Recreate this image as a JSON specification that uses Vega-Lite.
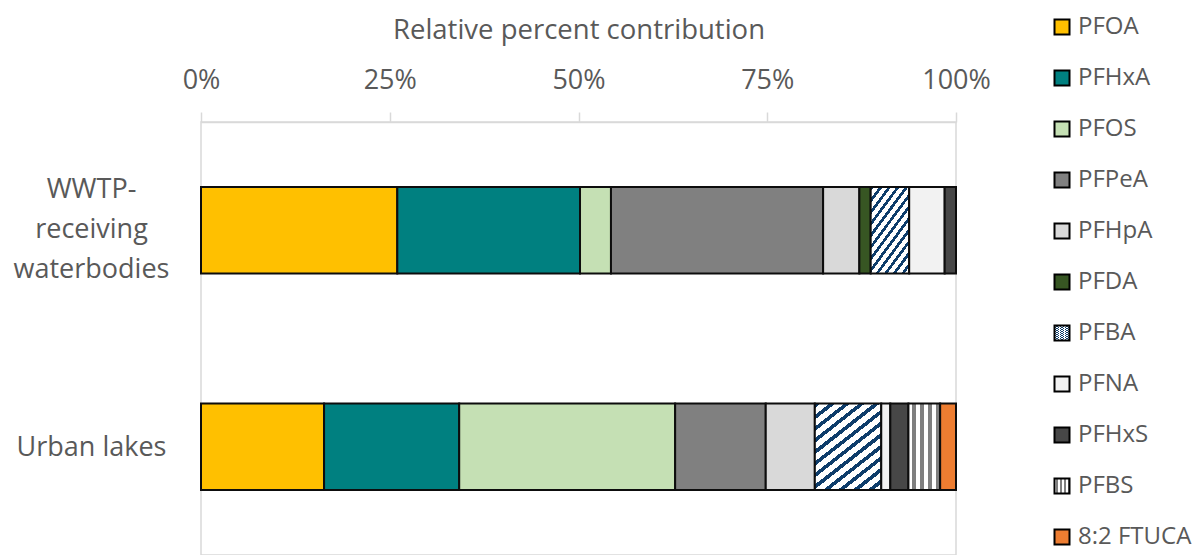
{
  "$schema": "https://vega.github.io/schema/vega-lite/v6.json",
  "width": 755,
  "height": 433,
  "autosize": "none",
  "padding": {"left": 201, "top": 122, "right": 242, "bottom": 0},
  "background": "white",
  "config": {
    "font": "Open Sans",
    "view": {"stroke": "#D9D9D9", "strokeWidth": 1.5}
  },
  "data": {
    "values": [
      {"site": "WWTP-receiving waterbodies", "compound": "PFOA", "percent": 26.0},
      {"site": "WWTP-receiving waterbodies", "compound": "PFHxA", "percent": 24.2},
      {"site": "WWTP-receiving waterbodies", "compound": "PFOS", "percent": 4.1},
      {"site": "WWTP-receiving waterbodies", "compound": "PFPeA", "percent": 28.1},
      {"site": "WWTP-receiving waterbodies", "compound": "PFHpA", "percent": 4.8},
      {"site": "WWTP-receiving waterbodies", "compound": "PFDA", "percent": 1.5},
      {"site": "WWTP-receiving waterbodies", "compound": "PFBA", "percent": 5.1},
      {"site": "WWTP-receiving waterbodies", "compound": "PFNA", "percent": 4.7},
      {"site": "WWTP-receiving waterbodies", "compound": "PFHxS", "percent": 1.5},
      {"site": "Urban lakes", "compound": "PFOA", "percent": 16.3},
      {"site": "Urban lakes", "compound": "PFHxA", "percent": 17.9},
      {"site": "Urban lakes", "compound": "PFOS", "percent": 28.6},
      {"site": "Urban lakes", "compound": "PFPeA", "percent": 12.0},
      {"site": "Urban lakes", "compound": "PFHpA", "percent": 6.5},
      {"site": "Urban lakes", "compound": "PFBA", "percent": 8.8},
      {"site": "Urban lakes", "compound": "PFNA", "percent": 1.2},
      {"site": "Urban lakes", "compound": "PFHxS", "percent": 2.4},
      {"site": "Urban lakes", "compound": "PFBS", "percent": 4.2},
      {"site": "Urban lakes", "compound": "8:2 FTUCA", "percent": 2.1}
    ]
  },
  "transform": [
    {"calculate": "indexof(['PFOA', 'PFHxA', 'PFOS', 'PFPeA', 'PFHpA', 'PFDA', 'PFBA', 'PFNA', 'PFHxS', 'PFBS', '8:2 FTUCA'], datum.compound)", "as": "stackRank"}
  ],
  "mark": {"type": "bar", "stroke": "#0D0D0D", "strokeWidth": 2},
  "encoding": {
    "y": {
      "field": "site",
      "type": "nominal",
      "sort": ["WWTP-receiving waterbodies", "Urban lakes"],
      "scale": {"paddingInner": 0.6, "paddingOuter": 0.3},
      "axis": {
        "title": null,
        "domain": false,
        "ticks": false,
        "labelAlign": "center",
        "labelBaseline": "middle",
        "labelPadding": 110,
        "labelFontSize": 27,
        "labelColor": "#595959",
        "labelLineHeight": 40,
        "labelOffset": {"condition": {"test": "datum.value == 'Urban lakes'", "value": 1}, "value": -40},
        "labelExpr": "datum.value == 'Urban lakes' ? datum.value : ['WWTP-', 'receiving', 'waterbodies']"
      }
    },
    "x": {
      "field": "percent",
      "type": "quantitative",
      "stack": "normalize",
      "scale": {"domain": [0, 1]},
      "axis": {
        "orient": "top",
        "title": "Relative percent contribution",
        "values": [0, 0.25, 0.5, 0.75, 1],
        "format": ".0%",
        "grid": false,
        "domainColor": "#D9D9D9",
        "domainWidth": 1.5,
        "tickColor": "#D9D9D9",
        "tickWidth": 1.5,
        "tickSize": 10,
        "labelFlush": false,
        "labelOverlap": false,
        "labelFontSize": 27,
        "labelColor": "#595959",
        "labelBaseline": "alphabetic",
        "labelPadding": 24,
        "titleFontSize": 27.5,
        "titleFontWeight": "normal",
        "titleColor": "#595959",
        "titleBaseline": "alphabetic",
        "titleAlign": "center",
        "titleX": 377.5,
        "titleY": -84
      }
    },
    "order": {"field": "stackRank", "type": "quantitative"},
    "fill": {
      "field": "compound",
      "type": "nominal",
      "sort": ["PFOA", "PFHxA", "PFOS", "PFPeA", "PFHpA", "PFDA", "PFBA", "PFNA", "PFHxS", "PFBS", "8:2 FTUCA"],
      "scale": {
        "domain": ["PFOA", "PFHxA", "PFOS", "PFPeA", "PFHpA", "PFDA", "PFBA", "PFNA", "PFHxS", "PFBS", "8:2 FTUCA"],
        "range": [
          "#FFC000",
          "#008080",
          "#C5E0B4",
          "#808080",
          "#D9D9D9",
          "#375623",
          {"expr": "{gradient: 'linear', x1: 0, y1: 0, x2: 0.71, y2: 1.18, stops: [{offset: 0, color: '#0E3D6B'}, {offset: 0.033, color: '#0E3D6B'}, {offset: 0.033, color: '#FFFFFF'}, {offset: 0.083, color: '#FFFFFF'}, {offset: 0.083, color: '#0E3D6B'}, {offset: 0.117, color: '#0E3D6B'}, {offset: 0.117, color: '#FFFFFF'}, {offset: 0.167, color: '#FFFFFF'}, {offset: 0.167, color: '#0E3D6B'}, {offset: 0.2, color: '#0E3D6B'}, {offset: 0.2, color: '#FFFFFF'}, {offset: 0.25, color: '#FFFFFF'}, {offset: 0.25, color: '#0E3D6B'}, {offset: 0.283, color: '#0E3D6B'}, {offset: 0.283, color: '#FFFFFF'}, {offset: 0.333, color: '#FFFFFF'}, {offset: 0.333, color: '#0E3D6B'}, {offset: 0.367, color: '#0E3D6B'}, {offset: 0.367, color: '#FFFFFF'}, {offset: 0.417, color: '#FFFFFF'}, {offset: 0.417, color: '#0E3D6B'}, {offset: 0.45, color: '#0E3D6B'}, {offset: 0.45, color: '#FFFFFF'}, {offset: 0.5, color: '#FFFFFF'}, {offset: 0.5, color: '#0E3D6B'}, {offset: 0.533, color: '#0E3D6B'}, {offset: 0.533, color: '#FFFFFF'}, {offset: 0.583, color: '#FFFFFF'}, {offset: 0.583, color: '#0E3D6B'}, {offset: 0.617, color: '#0E3D6B'}, {offset: 0.617, color: '#FFFFFF'}, {offset: 0.667, color: '#FFFFFF'}, {offset: 0.667, color: '#0E3D6B'}, {offset: 0.7, color: '#0E3D6B'}, {offset: 0.7, color: '#FFFFFF'}, {offset: 0.75, color: '#FFFFFF'}, {offset: 0.75, color: '#0E3D6B'}, {offset: 0.783, color: '#0E3D6B'}, {offset: 0.783, color: '#FFFFFF'}, {offset: 0.833, color: '#FFFFFF'}, {offset: 0.833, color: '#0E3D6B'}, {offset: 0.867, color: '#0E3D6B'}, {offset: 0.867, color: '#FFFFFF'}, {offset: 0.917, color: '#FFFFFF'}, {offset: 0.917, color: '#0E3D6B'}, {offset: 0.95, color: '#0E3D6B'}, {offset: 0.95, color: '#FFFFFF'}, {offset: 1, color: '#FFFFFF'}]}"},
          "#F2F2F2",
          "#474747",
          {"expr": "{gradient: 'linear', x1: 0, y1: 0, x2: 1, y2: 0, stops: [{offset: 0, color: '#FFFFFF'}, {offset: 0.125, color: '#FFFFFF'}, {offset: 0.125, color: '#7F7F7F'}, {offset: 0.25, color: '#7F7F7F'}, {offset: 0.25, color: '#FFFFFF'}, {offset: 0.375, color: '#FFFFFF'}, {offset: 0.375, color: '#7F7F7F'}, {offset: 0.5, color: '#7F7F7F'}, {offset: 0.5, color: '#FFFFFF'}, {offset: 0.625, color: '#FFFFFF'}, {offset: 0.625, color: '#7F7F7F'}, {offset: 0.75, color: '#7F7F7F'}, {offset: 0.75, color: '#FFFFFF'}, {offset: 0.875, color: '#FFFFFF'}, {offset: 0.875, color: '#7F7F7F'}, {offset: 1, color: '#7F7F7F'}]}"},
          "#ED7D31"
        ]
      },
      "legend": {
        "title": null,
        "orient": "none",
        "legendX": 849,
        "legendY": -107,
        "padding": 0,
        "symbolType": "square",
        "symbolSize": 225,
        "symbolStrokeColor": "#000000",
        "symbolStrokeWidth": 2,
        "symbolOpacity": 1,
        "labelFontSize": 24,
        "labelColor": "#595959",
        "labelOffset": 4,
        "rowPadding": 27,
        "labelLimit": 200
      }
    }
  }
}
